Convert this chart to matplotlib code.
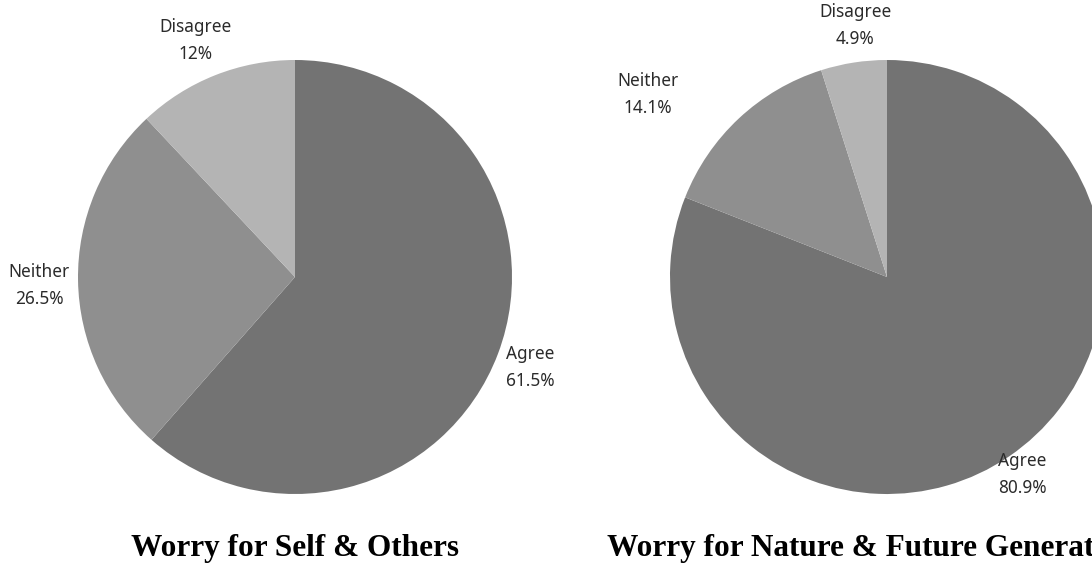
import matplotlib
matplotlib.use("Agg")
import matplotlib.pyplot as plt

categories = ["Agree", "Neither", "Disagree"]
self_values = [61.5, 26.5, 12.0]
self_labels = ["61.5%", "26.5%", "12%"]
nature_values = [80.9, 14.1, 4.9]
nature_labels = ["80.9%", "14.1%", "4.9%"]
titles = ["Worry for Self & Others", "Worry for Nature & Future Generations"]

colors = ["#737373", "#8f8f8f", "#b4b4b4"]
W, H = 1092, 565
fig = plt.figure(figsize=(W / 100, H / 100), dpi=100)
fig.patch.set_facecolor("white")

R = 217
centers = [(295, 277), (887, 277)]
title_x = [295, 878]
# label positions (in units of pie radius) for each chart
label_pos = [
    [(1.083, -0.415), (-1.18, -0.04), (-0.46, 1.09)],
    [(0.622, -0.912), (-1.10, 0.84), (-0.147, 1.16)],
]

datasets = [(self_values, self_labels), (nature_values, nature_labels)]
for i, ((vals, pct), (cx, cy)) in enumerate(zip(datasets, centers)):
    ax = fig.add_axes([(cx - R) / W, (H - cy - R) / H, 2 * R / W, 2 * R / H])
    ax.pie(vals, colors=colors, startangle=90, counterclock=False,
           radius=1.0, wedgeprops=dict(linewidth=0))
    ax.set_xlim(-1, 1)
    ax.set_ylim(-1, 1)
    ax.set_aspect("equal")
    ax.axis("off")
    for cat, p, (lx, ly) in zip(categories, pct, label_pos[i]):
        ax.text(lx, ly, f"{cat}\n{p}", ha="center", va="center",
                fontsize=12.4, family="Noto Sans", color="#2b2b2b",
                linespacing=1.65, clip_on=False)
    fig.text(title_x[i] / W, (H - 556) / H, titles[i], ha="center", va="baseline",
             fontsize=22.5, family="Liberation Serif", fontweight="bold",
             color="black")

fig.savefig("out.png", dpi=100, facecolor="white")
